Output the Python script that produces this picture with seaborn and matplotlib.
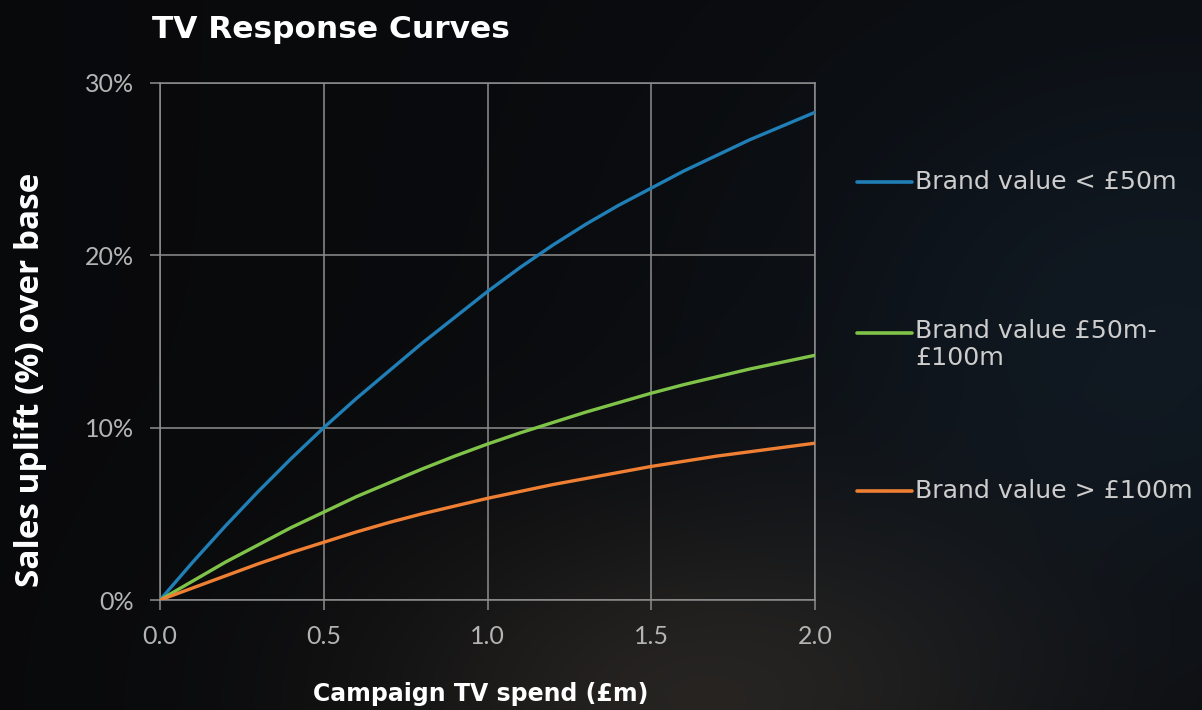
import numpy as np
import pandas as pd
import matplotlib
matplotlib.use("Agg")
import matplotlib.pyplot as plt
from matplotlib.lines import Line2D
from matplotlib.ticker import PercentFormatter
import seaborn as sns

# Campaign TV spend (£m) and sales uplift (%) for each brand-value band
spend = [0.0, 0.1, 0.2, 0.3, 0.4, 0.5, 0.6, 0.7, 0.8, 0.9, 1.0,
         1.1, 1.2, 1.3, 1.4, 1.5, 1.6, 1.7, 1.8, 1.9, 2.0]
uplift_small = [0.0, 2.2, 4.3, 6.3, 8.2, 10.0, 11.7, 13.3, 14.9, 16.4, 17.9,
                19.3, 20.6, 21.8, 22.9, 23.9, 24.9, 25.8, 26.7, 27.5, 28.3]
uplift_mid = [0.0, 1.1, 2.2, 3.2, 4.2, 5.1, 6.0, 6.8, 7.6, 8.35, 9.05,
              9.7, 10.3, 10.9, 11.45, 12.0, 12.5, 12.95, 13.4, 13.8, 14.2]
uplift_large = [0.0, 0.7, 1.4, 2.1, 2.75, 3.35, 3.95, 4.5, 5.0, 5.45, 5.9,
                6.3, 6.7, 7.05, 7.4, 7.75, 8.05, 8.35, 8.6, 8.85, 9.1]

series_labels = ["Brand value < £50m", "Brand value £50m-\n£100m", "Brand value > £100m"]
series_colors = ["#1f7fb6", "#80c349", "#ef7f33"]
y_ticks = [0, 10, 20, 30]
x_ticks = [0.0, 0.5, 1.0, 1.5, 2.0]

df = pd.concat([
    pd.DataFrame({"spend": spend, "uplift": vals, "band": lab})
    for vals, lab in zip([uplift_small, uplift_mid, uplift_large], series_labels)
])

sns.set_theme(style="dark")
plt.rcParams["font.family"] = ["DejaVu Sans"]

W, H = 1202, 710
fig = plt.figure(figsize=(W / 100, H / 100), dpi=100)

# dark backdrop: near-black with a warm glow low in the middle and a cool tint to the right
gy, gx = np.mgrid[0:H, 0:W]
base = np.array([0.043, 0.047, 0.058])
warm = np.exp(-(((gx - 700) / 330.0) ** 2 + ((gy - 700) / 190.0) ** 2))
cool = np.exp(-(((gx - 1150) / 380.0) ** 2 + ((gy - 330) / 300.0) ** 2))
left_dark = np.clip((gx / W), 0, 1)
img = (base[None, None, :] * (0.8 + 0.2 * left_dark[..., None])
       + warm[..., None] * np.array([0.11, 0.095, 0.075])[None, None, :]
       + cool[..., None] * np.array([0.02, 0.05, 0.075])[None, None, :])
img = np.clip(img, 0, 1)
bg = fig.add_axes([0, 0, 1, 1], zorder=-10)
bg.imshow(img, aspect="auto", interpolation="bilinear")
bg.set_axis_off()

ax = fig.add_axes([160 / W, 1 - 600 / H, 655 / W, 517 / H])
ax.set_facecolor("none")
sns.lineplot(data=df, x="spend", y="uplift", hue="band", palette=series_colors,
             hue_order=series_labels, linewidth=2.4, ax=ax, legend=False, zorder=3)

grid_c = "#8e8e8e"
ax.set_xlim(0, 2.0)
ax.set_ylim(0, 30)
ax.set_xticks(x_ticks)
ax.set_xticklabels([f"{t:.1f}" for t in x_ticks])
ax.set_yticks(y_ticks)
ax.yaxis.set_major_formatter(PercentFormatter(decimals=0))
ax.grid(True, color=grid_c, linewidth=1.1, zorder=1)
for s in ax.spines.values():
    s.set_visible(True)
    s.set_color(grid_c)
    s.set_linewidth(1.1)
ax.tick_params(axis="both", which="major", direction="out", length=7, width=1.1,
               color=grid_c, labelcolor="#b4b4b4", labelsize=18,
               bottom=True, left=True)
ax.tick_params(axis="x", pad=11)
ax.tick_params(axis="y", pad=12)
for lab in ax.get_xticklabels() + ax.get_yticklabels():
    lab.set_family(["Lato", "DejaVu Sans"])
ax.set_xlabel("")
ax.set_ylabel("")

fig.text(152 / W, 1 - 29 / H, "TV Response Curves", color="white", fontsize=22.5,
         fontweight="bold", ha="left", va="center")
fig.text(481 / W, 1 - 694 / H, "Campaign TV spend (£m)", color="white", fontsize=17,
         fontweight="bold", ha="center", va="center")
fig.text(31 / W, 1 - 380 / H, "Sales uplift (%) over base", color="white", fontsize=24,
         fontweight="bold", ha="center", va="center", rotation=90,
         family=["Open Sans", "DejaVu Sans"])

# legend entries placed in the right margin
legend_y = [182, 333, 491]
for lab, col, yy in zip(series_labels, series_colors, legend_y):
    fy = 1 - yy / H
    fig.add_artist(Line2D([857 / W, 912 / W], [fy, fy], color=col, linewidth=2.6))
    if "\n" in lab:
        fig.text(915 / W, fy + 14 / H, lab, color="#cdcdcd", fontsize=18.2, ha="left",
                 va="top", linespacing=1.15)
    else:
        fig.text(915 / W, fy, lab, color="#cdcdcd", fontsize=18.2, ha="left", va="center")

fig.savefig("out.png", dpi=100)
